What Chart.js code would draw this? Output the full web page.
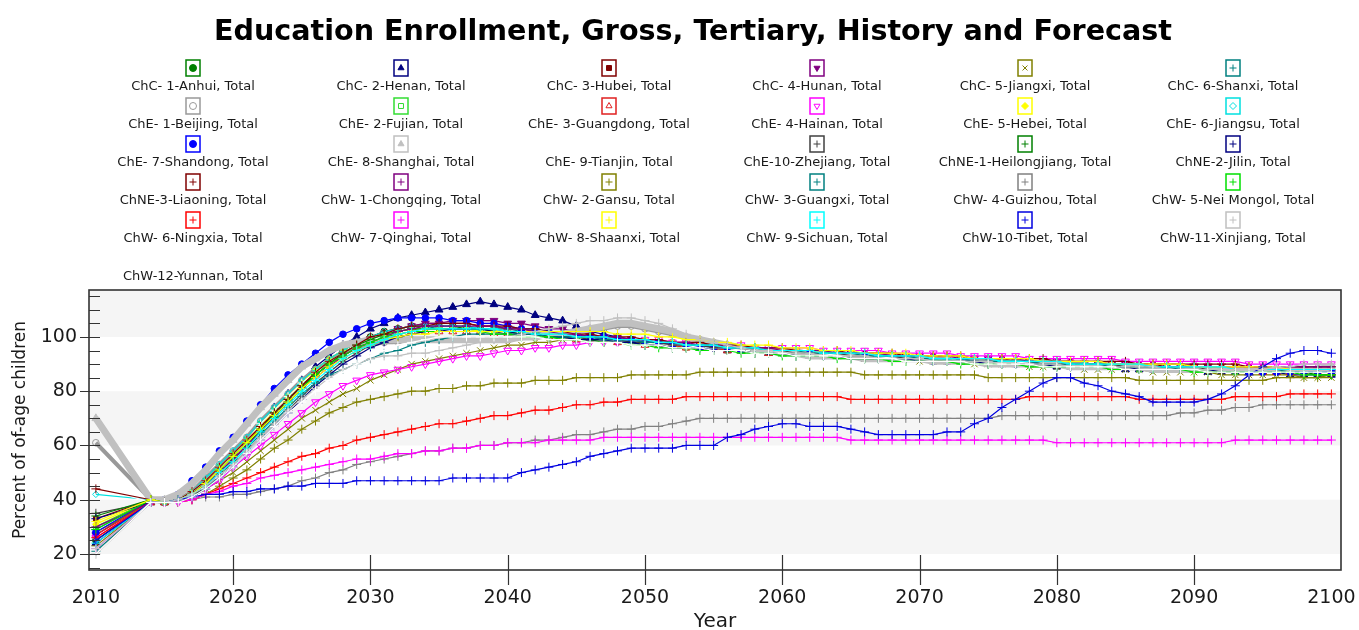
<!DOCTYPE html>
<html>
<head>
<meta charset="utf-8">
<script src="https://cdn.jsdelivr.net/npm/chart.js@4.4.1/dist/chart.umd.min.js"></script>
<style>
  body { margin: 0; background: #fff; }
  #wrap { position: relative; width: 1359px; height: 630px; font-family: 'DejaVu Sans', sans-serif; color: #1a1a1a; }
  #chart { position: absolute; left: 0; top: 0; }
  #title { position: absolute; left: 0; top: 13px; width: 1386px; text-align: center; font-weight: bold; font-size: 28.6px; line-height: 34px; color: #000; }
  .item { position: absolute; width: 208px; text-align: center; }
  .item canvas { display: block; margin: 0 auto; }
  .item span { display: block; font-size: 13px; line-height: 16px; margin-top: 1px; white-space: nowrap; }
</style>
</head>
<body>
<div id="wrap">
  <canvas id="chart" width="1359" height="630"></canvas>
  <div id="title">Education Enrollment, Gross, Tertiary, History and Forecast</div>
  <div id="legend"></div>
</div>
<script>
// years: one history point (2010), then the forecast 2014-2100
const years = [2010];
for (let y = 2014; y <= 2100; y++) years.push(y);

const xTicks = [2010, 2020, 2030, 2040, 2050, 2060, 2070, 2080, 2090, 2100];
const yTicks = [20, 40, 60, 80, 100];

// values per province: 2010 | 2014-2019 | 2020s ... 2090s | 2100
const anhui = [25, 40,39,40,42,46,50, 55,60,66,71,77,82,87,91,95,98, 100,102,103,104,104,104,104,103,103,103, 102,102,101,101,101,100,100,99,99,99, 98,98,97,97,97,96,96,96,95,95, 95,94,94,94,94,93,93,93,93,92, 92,92,92,92,91,91,91,91,90,90, 90,90,90,89,89,89,89,89,88,88, 88,88,88,88,87,87,87,87,87,87, 87];
const henan = [24, 39,39,40,43,47,52, 57,62,68,74,79,84,89,93,97,100, 103,105,107,108,109,110,111,112,113,112, 111,110,108,107,106,104,102,101,100,99, 98,98,97,97,96,96,95,95,95,94, 94,94,93,93,93,93,92,92,92,92, 92,91,91,91,91,90,90,90,90,90, 89,89,89,89,89,88,88,88,88,88, 88,87,87,87,87,87,87,86,86,86, 86];
const hubei = [33, 40,39,40,43,47,52, 57,62,67,73,78,83,88,92,95,98, 100,102,103,104,105,105,105,105,104,104, 103,103,102,102,101,101,100,100,99,99, 98,98,98,97,97,97,96,96,96,95, 95,95,95,94,94,94,94,93,93,93, 93,93,92,92,92,92,92,91,91,91, 91,91,90,90,90,90,90,90,89,89, 89,89,89,89,89,89,88,88,88,88, 88];
const hunan = [27, 40,39,40,42,46,51, 56,61,66,72,77,82,86,90,94,97, 99,101,103,104,105,105,106,106,106,106, 105,105,104,103,103,102,101,100,100,99, 98,98,97,97,97,96,96,96,95,95, 95,95,94,94,94,94,93,93,93,93, 93,92,92,92,92,92,91,91,91,91, 91,90,90,90,90,90,89,89,89,89, 89,89,88,88,88,88,88,88,88,87, 87];
const jiangxi = [28, 39,39,40,42,44,47, 50,54,58,62,66,70,73,76,79,81, 84,86,88,90,91,92,93,94,95,96, 97,97,98,98,99,99,99,99,99,98, 98,98,97,97,96,96,96,95,95,95, 94,94,94,93,93,93,92,92,92,92, 91,91,91,91,90,90,90,90,89,89, 89,89,88,88,88,88,88,87,87,87, 87,87,86,86,86,86,86,86,85,85, 85];
const shanxi = [29, 40,39,40,42,46,50, 55,60,65,71,76,81,86,90,93,96, 99,100,102,103,103,104,104,104,103,103, 103,102,102,101,101,100,100,100,99,99, 98,98,98,97,97,96,96,96,95,95, 95,94,94,94,94,93,93,93,93,92, 92,92,92,92,91,91,91,91,91,90, 90,90,90,90,89,89,89,89,89,89, 88,88,88,88,88,88,88,87,87,87, 87];
const beijing = [61, 40,39,40,43,48,53, 58,63,69,74,79,84,88,91,94,96, 97,98,98,99,99,99,99,99,99,99, 100,100,100,101,101,102,103,103,104,104, 103,102,101,100,99,98,97,96,96,95, 95,95,94,94,94,93,93,93,93,92, 92,92,92,91,91,91,91,90,90,90, 90,90,90,89,89,89,89,89,88,88, 88,88,88,88,88,88,88,88,88,88, 89];
const fujian = [30, 40,39,40,43,47,52, 57,62,68,73,78,83,87,91,94,97, 99,101,102,103,103,103,103,103,102,102, 102,101,101,100,100,100,99,99,98,98, 98,97,97,96,96,96,95,95,95,94, 94,94,94,93,93,93,93,92,92,92, 92,91,91,91,91,91,90,90,90,90, 90,89,89,89,89,89,88,88,88,88, 88,88,88,87,87,87,87,87,87,87, 87];
const guangdong = [27, 39,39,40,42,46,51, 56,61,67,72,77,82,86,90,93,96, 98,100,101,102,102,102,102,102,102,101, 101,101,100,100,100,99,99,99,98,98, 97,97,97,96,96,96,95,95,95,94, 94,94,94,93,93,93,93,92,92,92, 92,92,91,91,91,91,91,90,90,90, 90,90,89,89,89,89,89,89,88,88, 88,88,88,88,88,87,87,87,87,87, 87];
const hainan = [26, 39,39,39,41,44,47, 52,56,60,64,68,72,76,79,82,84, 86,87,88,89,90,91,92,93,93,94, 95,95,96,96,97,97,98,98,98,99, 99,99,98,98,98,97,97,97,96,96, 96,96,96,95,95,95,95,95,94,94, 94,94,94,93,93,93,93,93,92,92, 92,92,92,92,92,91,91,91,91,91, 91,91,91,91,90,90,90,90,90,90, 90];
const hebei = [31, 40,39,40,43,47,52, 57,62,67,73,78,83,88,92,95,98, 100,101,102,103,103,103,103,103,102,102, 102,101,101,101,100,100,100,100,99,99, 99,98,98,97,97,97,96,96,96,95, 95,95,95,94,94,94,93,93,93,93, 93,92,92,92,92,91,91,91,91,91, 90,90,90,90,90,89,89,89,89,89, 89,88,88,88,88,88,88,88,88,88, 88];
const jiangsu = [42, 40,39,40,43,48,53, 58,63,69,74,79,84,88,92,95,98, 100,102,103,104,104,104,104,104,103,103, 102,102,101,101,100,100,100,99,99,98, 98,98,97,97,96,96,96,95,95,95, 94,94,94,94,93,93,93,93,92,92, 92,92,92,91,91,91,91,91,90,90, 90,90,90,90,89,89,89,89,89,89, 88,88,88,88,88,88,88,88,88,87, 87];
const shandong = [28, 40,40,42,47,52,58, 63,69,75,81,86,90,94,98,101,103, 105,106,107,107,107,107,106,106,105,105, 104,103,103,102,101,101,100,100,99,99, 98,98,97,97,96,96,96,95,95,95, 94,94,94,93,93,93,93,92,92,92, 92,91,91,91,91,91,90,90,90,90, 90,89,89,89,89,89,89,88,88,88, 88,88,88,88,87,87,87,87,87,87, 87];
const shanghai = [70, 40,40,42,46,51,57, 62,68,74,79,84,89,92,95,97,98, 99,99,99,99,99,99,99,99,99,99, 99,100,100,101,101,102,103,104,105,105, 104,103,102,100,99,98,97,96,95,95, 94,94,93,93,93,93,92,92,92,92, 92,91,91,91,91,90,90,90,90,90, 90,89,89,89,89,89,89,88,88,88, 88,88,88,88,88,88,88,88,88,88, 89];
const tianjin = [45, 39,39,40,43,47,52, 57,62,68,73,78,83,87,91,94,97, 99,100,101,102,102,102,102,102,102,101, 101,101,100,100,100,99,99,99,98,98, 98,97,97,97,96,96,96,95,95,95, 94,94,94,94,93,93,93,93,92,92, 92,92,92,91,91,91,91,91,90,90, 90,90,90,90,89,89,89,89,89,89, 89,88,88,88,88,88,88,88,88,88, 88];
const zhejiang = [35, 39,39,39,41,45,49, 53,58,63,68,73,78,83,87,91,94, 97,99,100,101,102,102,102,102,102,102, 101,101,101,100,100,100,99,99,99,98, 98,98,97,97,97,96,96,96,95,95, 95,94,94,94,94,93,93,93,93,92, 92,92,92,92,91,91,91,91,91,90, 90,90,90,90,90,89,89,89,89,89, 89,88,88,88,88,88,88,88,88,88, 88];
const heilongjiang = [34, 40,39,40,42,46,51, 56,61,66,72,77,82,86,90,94,97, 99,101,102,103,103,103,103,103,103,102, 102,101,101,100,100,99,99,98,98,98, 97,97,96,96,96,95,95,95,94,94, 94,93,93,93,93,92,92,92,92,91, 91,91,91,91,90,90,90,90,90,89, 89,89,89,89,89,88,88,88,88,88, 88,87,87,87,87,87,87,87,87,86, 86];
const jilin = [33, 39,39,39,41,44,48, 52,57,62,67,72,77,82,86,90,93, 96,98,100,101,102,102,103,103,103,102, 102,101,101,100,100,99,99,99,98,98, 97,97,96,96,96,95,95,95,94,94, 94,93,93,93,93,92,92,92,92,92, 91,91,91,91,91,90,90,90,90,90, 89,89,89,89,89,89,88,88,88,88, 88,88,87,87,87,87,87,87,87,87, 87];
const liaoning = [44, 40,39,40,43,47,52, 57,62,67,72,77,82,87,91,94,97, 100,101,103,104,104,105,105,105,104,104, 104,103,103,102,102,101,101,100,100,100, 99,99,98,98,98,97,97,97,96,96, 96,95,95,95,95,94,94,94,94,93, 93,93,93,93,92,92,92,92,92,92, 91,91,91,91,91,91,90,90,90,90, 90,90,90,90,89,89,89,89,89,89, 89];
const chongqing = [30, 39,39,40,42,46,50, 55,60,65,71,76,81,85,89,93,96, 98,100,102,103,104,104,104,104,104,104, 103,103,102,102,101,101,100,100,100,99, 99,98,98,98,97,97,97,96,96,96, 95,95,95,95,94,94,94,94,93,93, 93,93,93,92,92,92,92,92,91,91, 91,91,91,91,90,90,90,90,90,90, 89,89,89,89,89,89,89,89,89,89, 89];
const gansu = [23, 39,39,39,40,42,45, 48,51,55,59,62,66,69,72,74,76, 77,78,79,80,80,81,81,82,82,83, 83,83,84,84,84,85,85,85,85,86, 86,86,86,86,87,87,87,87,87,87, 87,87,87,87,87,87,86,86,86,86, 86,86,86,86,86,85,85,85,85,85, 85,85,85,85,85,85,84,84,84,84, 84,84,84,84,84,84,85,85,85,85, 86];
const guangxi = [21, 39,39,39,41,44,49, 54,59,64,69,74,79,83,86,88,90, 92,94,95,97,98,99,100,101,101,101, 101,101,101,100,100,100,100,99,99,99, 98,98,98,97,97,97,96,96,96,95, 95,95,94,94,94,94,93,93,93,93, 92,92,92,92,91,91,91,91,91,90, 90,90,90,90,89,89,89,89,89,88, 88,88,88,88,88,88,88,87,87,87, 87];
const guizhou = [20, 39,39,40,40,41,41, 42,42,43,44,45,47,48,50,51,53, 54,55,56,57,58,58,59,59,60,60, 61,61,62,62,63,64,64,65,66,66, 67,67,68,69,70,70,70,70,70,70, 70,70,70,70,70,70,70,70,70,70, 70,70,70,70,70,70,71,71,71,71, 71,71,71,71,71,71,71,71,71,72, 72,73,73,74,74,75,75,75,75,75, 75];
const neiMongol = [29, 40,39,40,42,46,51, 56,61,66,71,76,81,86,90,93,96, 98,100,101,102,102,102,102,102,102,101, 101,100,100,100,99,99,98,98,98,97, 97,96,96,96,95,95,95,94,94,94, 93,93,93,93,92,92,92,92,91,91, 91,91,91,90,90,90,90,90,89,89, 89,89,89,89,88,88,88,88,88,88, 87,87,87,87,87,87,87,87,86,86, 86];
const ningxia = [26, 39,39,39,40,42,44, 46,48,50,52,54,56,57,59,60,62, 63,64,65,66,67,68,68,69,70,71, 71,72,73,73,74,75,75,76,76,77, 77,77,77,78,78,78,78,78,78,78, 78,78,78,78,78,77,77,77,77,77, 77,77,77,77,77,77,77,77,78,78, 78,78,78,78,78,78,77,77,77,77, 77,77,77,78,78,78,78,79,79,79, 79];
const qinghai = [22, 39,39,39,40,42,43, 45,46,48,49,50,51,52,53,54,55, 55,56,57,57,58,58,59,59,60,60, 61,61,61,62,62,62,62,63,63,63, 63,63,63,63,63,63,63,63,63,63, 63,63,63,63,63,62,62,62,62,62, 62,62,62,62,62,62,62,62,62,62, 61,61,61,61,61,61,61,61,61,61, 61,61,61,62,62,62,62,62,62,62, 62];
const shaanxi = [32, 40,39,40,42,46,51, 56,61,66,71,76,81,85,89,92,95, 97,99,100,101,101,102,102,102,102,102, 102,102,102,102,102,102,102,102,101,101, 101,100,100,99,99,98,98,97,97,97, 96,96,96,95,95,95,94,94,94,94, 93,93,93,93,92,92,92,92,92,91, 91,91,91,91,90,90,90,90,90,90, 89,89,89,89,89,89,89,88,88,88, 88];
const sichuan = [24, 39,39,40,42,45,50, 54,59,65,70,75,80,84,88,92,95, 97,99,101,102,103,103,103,103,103,103, 102,102,101,101,101,100,100,100,99,99, 99,98,98,97,97,97,96,96,96,95, 95,95,95,94,94,94,94,93,93,93, 93,92,92,92,92,92,91,91,91,91, 91,90,90,90,90,90,90,89,89,89, 89,89,89,88,88,88,88,88,88,88, 88];
const tibet = [25, 39,39,40,41,42,42, 43,43,44,44,45,45,46,46,46,47, 47,47,47,47,47,47,48,48,48,48, 48,50,51,52,53,54,56,57,58,59, 59,59,59,60,60,60,63,64,66,67, 68,68,67,67,67,66,65,64,64,64, 64,64,65,65,68,70,74,77,80,83, 85,85,83,82,80,79,78,76,76,76, 76,77,79,82,86,89,92,94,95,95, 94];
const xinjiang = [22, 39,39,40,42,45,49, 53,58,63,68,73,77,81,85,88,90, 92,93,93,94,94,95,96,97,98,99, 100,101,102,103,104,105,106,106,107,107, 106,105,103,101,99,98,97,96,95,95, 94,94,94,93,93,93,93,92,92,92, 92,91,91,91,91,91,90,90,90,90, 90,89,89,89,89,89,89,89,88,88, 88,88,88,88,88,88,89,89,90,90, 90];
const yunnan = [20, 39,39,39,41,44,48, 52,57,62,67,72,76,80,84,87,90, 93,95,97,98,99,100,100,100,100,100, 100,100,100,99,99,99,98,98,98,97, 97,97,96,96,96,95,95,95,94,94, 94,93,93,93,93,92,92,92,92,91, 91,91,91,91,90,90,90,90,90,89, 89,89,89,89,89,88,88,88,88,88, 88,87,87,87,87,87,87,87,87,87, 87];

const names = [
  'ChC- 1-Anhui, Total', 'ChC- 2-Henan, Total', 'ChC- 3-Hubei, Total', 'ChC- 4-Hunan, Total', 'ChC- 5-Jiangxi, Total', 'ChC- 6-Shanxi, Total',
  'ChE- 1-Beijing, Total', 'ChE- 2-Fujian, Total', 'ChE- 3-Guangdong, Total', 'ChE- 4-Hainan, Total', 'ChE- 5-Hebei, Total', 'ChE- 6-Jiangsu, Total',
  'ChE- 7-Shandong, Total', 'ChE- 8-Shanghai, Total', 'ChE- 9-Tianjin, Total', 'ChE-10-Zhejiang, Total', 'ChNE-1-Heilongjiang, Total', 'ChNE-2-Jilin, Total',
  'ChNE-3-Liaoning, Total', 'ChW- 1-Chongqing, Total', 'ChW- 2-Gansu, Total', 'ChW- 3-Guangxi, Total', 'ChW- 4-Guizhou, Total', 'ChW- 5-Nei Mongol, Total',
  'ChW- 6-Ningxia, Total', 'ChW- 7-Qinghai, Total', 'ChW- 8-Shaanxi, Total', 'ChW- 9-Sichuan, Total', 'ChW-10-Tibet, Total', 'ChW-11-Xinjiang, Total',
  'ChW-12-Yunnan, Total'
];
const values = [anhui, henan, hubei, hunan, jiangxi, shanxi, beijing, fujian, guangdong, hainan, hebei, jiangsu,
  shandong, shanghai, tianjin, zhejiang, heilongjiang, jilin, liaoning, chongqing, gansu, guangxi, guizhou, neiMongol,
  ningxia, qinghai, shaanxi, sichuan, tibet, xinjiang, yunnan];

// colour, marker, filled marker, line width
const looks = [
  ['#008000', 'circle', true, 1.2], ['#000080', 'triangle', true, 1.2], ['#800000', 'rect', true, 1.2],
  ['#800080', 'triangleDown', true, 1.2], ['#808000', 'crossRot', false, 1.2], ['#008080', 'cross', false, 1.2],
  ['#999999', 'circle', false, 4], ['#33dd33', 'rect', false, 1.2], ['#e02020', 'triangle', false, 1.2],
  ['#ff00ff', 'triangleDown', false, 1.2], ['#ffff00', 'rectRot', true, 1.2], ['#00e0e0', 'rectRot', false, 1.2],
  ['#0000ff', 'circle', true, 1.2], ['#c0c0c0', 'triangle', true, 7], ['#ffffff', 'cross', false, 1.2],
  ['#404040', 'cross', false, 1.2], ['#008000', 'cross', false, 1.2], ['#000080', 'cross', false, 1.2],
  ['#800000', 'cross', false, 1.2], ['#800080', 'cross', false, 1.2], ['#808000', 'cross', false, 1.2],
  ['#008080', 'cross', false, 1.2], ['#808080', 'cross', false, 1.2], ['#00e000', 'cross', false, 1.2],
  ['#ff0000', 'cross', false, 1.2], ['#ff00ff', 'cross', false, 1.2], ['#ffff00', 'cross', false, 1.2],
  ['#00ffff', 'cross', false, 1.2], ['#0000e0', 'cross', false, 1.2], ['#c0c0c0', 'cross', false, 1.2],
  ['#ffffff', 'cross', false, 1.2]
];

const shadedBands = [[100, 120], [60, 80], [20, 40]];
const fontFamily = "'DejaVu Sans', sans-serif";

values.forEach(function (v, i) {
  if (v.length !== years.length) throw new Error(names[i] + ' has ' + v.length + ' values');
});

function markerOf(look) {
  var down = look[1] === 'triangleDown';
  return { style: down ? 'triangle' : look[1], rotation: down ? 180 : 0 };
}

function radiusOf(style) {
  if (style === 'cross' || style === 'crossRot') return 4.5;
  if (style === 'triangle') return 4.5;
  return 3.3;
}

var datasets = values.map(function (vals, i) {
  var look = looks[i];
  var m = markerOf(look);
  return {
    label: names[i],
    data: years.map(function (yr, j) { return { x: yr, y: vals[j] }; }),
    borderColor: look[0],
    backgroundColor: look[0],
    borderWidth: look[3],
    pointStyle: m.style,
    pointRotation: m.rotation,
    pointRadius: radiusOf(m.style),
    pointBorderWidth: 1,
    pointBorderColor: look[0],
    pointBackgroundColor: look[2] ? look[0] : 'rgba(0,0,0,0)',
    order: names.length - i
  };
});

// shaded bands, frame and the tick marks that cross the axes
var axesDeco = {
  id: 'axesDeco',
  beforeDatasetsDraw: function (chart) {
    var ctx = chart.ctx, a = chart.chartArea, y = chart.scales.y;
    ctx.save();
    ctx.fillStyle = '#f5f5f5';
    shadedBands.forEach(function (b) {
      var top = Math.max(y.getPixelForValue(b[1]), a.top);
      var bot = Math.min(y.getPixelForValue(b[0]), a.bottom);
      if (bot > top) ctx.fillRect(a.left, top, a.right - a.left, bot - top);
    });
    ctx.restore();
  },
  afterDraw: function (chart) {
    var ctx = chart.ctx, a = chart.chartArea, x = chart.scales.x, y = chart.scales.y;
    ctx.save();
    ctx.strokeStyle = '#333';
    ctx.lineWidth = 1.2;
    ctx.beginPath();
    for (var v = 15; v <= 115; v += 5) {
      var py = Math.round(y.getPixelForValue(v)) + 0.5;
      ctx.moveTo(v % 20 === 0 ? a.left - 9 : a.left, py);
      ctx.lineTo(a.left + 11, py);
    }
    for (var t = 2020; t <= 2090; t += 10) {
      var px = Math.round(x.getPixelForValue(t)) + 0.5;
      ctx.moveTo(px, a.bottom - 15);
      ctx.lineTo(px, a.bottom + 15);
    }
    ctx.stroke();
    ctx.lineWidth = 1.6;
    ctx.strokeRect(a.left, a.top, a.right - a.left, a.bottom - a.top);
    ctx.restore();
  }
};

var chart = new Chart(document.getElementById('chart').getContext('2d'), {
  type: 'line',
  data: { datasets: datasets },
  plugins: [axesDeco],
  options: {
    responsive: false,
    animation: false,
    devicePixelRatio: 1,
    layout: { padding: { top: 290, right: 18 } },
    plugins: {
      legend: { display: false },
      tooltip: { enabled: false },
      title: { display: false }
    },
    scales: {
      x: {
        type: 'linear',
        min: 2009.5,
        max: 2100.7,
        grid: { display: false },
        border: { display: false },
        afterBuildTicks: function (s) { s.ticks = xTicks.map(function (v) { return { value: v }; }); },
        afterFit: function (s) { s.height = 60; s.paddingLeft = 0; s.paddingRight = 0; },
        ticks: {
          autoSkip: false, maxRotation: 0, padding: 9, color: '#1a1a1a',
          font: { family: fontFamily, size: 19 },
          callback: function (v) { return String(v); }
        },
        title: {
          display: true, text: 'Year', color: '#1a1a1a',
          font: { family: fontFamily, size: 20, lineHeight: 0.8 }, padding: 0
        }
      },
      y: {
        min: 14.1,
        max: 117.3,
        grid: { display: false },
        border: { display: false },
        afterBuildTicks: function (s) { s.ticks = yTicks.map(function (v) { return { value: v }; }); },
        afterFit: function (s) { s.width = 89; s.paddingTop = 0; s.paddingBottom = 0; },
        ticks: { padding: 4, color: '#1a1a1a', font: { family: fontFamily, size: 19 } },
        title: {
          display: true, text: 'Percent of of-age children', color: '#1a1a1a',
          font: { family: fontFamily, size: 17 }, padding: { top: 10, bottom: 0 }
        }
      }
    }
  }
});

// html legend: six columns, marker box above each label
var legend = document.getElementById('legend');
chart.data.datasets.forEach(function (ds, i) {
  var look = looks[i];
  var m = markerOf(look);
  var item = document.createElement('div');
  item.className = 'item';
  item.style.left = (89 + 208 * (i % 6)) + 'px';
  item.style.top = (59 + 38 * Math.floor(i / 6)) + 'px';
  var box = document.createElement('canvas');
  box.width = 16;
  box.height = 18;
  var g = box.getContext('2d');
  g.strokeStyle = look[0];
  g.lineWidth = 1.5;
  g.strokeRect(1, 1, 14, 16);
  g.fillStyle = look[2] ? look[0] : 'rgba(0,0,0,0)';
  g.lineWidth = 1;
  if (Chart.helpers && Chart.helpers.drawPoint) {
    Chart.helpers.drawPoint(g, { pointStyle: m.style, rotation: m.rotation, radius: 3.5, borderWidth: 1 }, 8, 9);
  }
  var label = document.createElement('span');
  label.textContent = ds.label;
  item.appendChild(box);
  item.appendChild(label);
  legend.appendChild(item);
});
</script>
</body>
</html>
